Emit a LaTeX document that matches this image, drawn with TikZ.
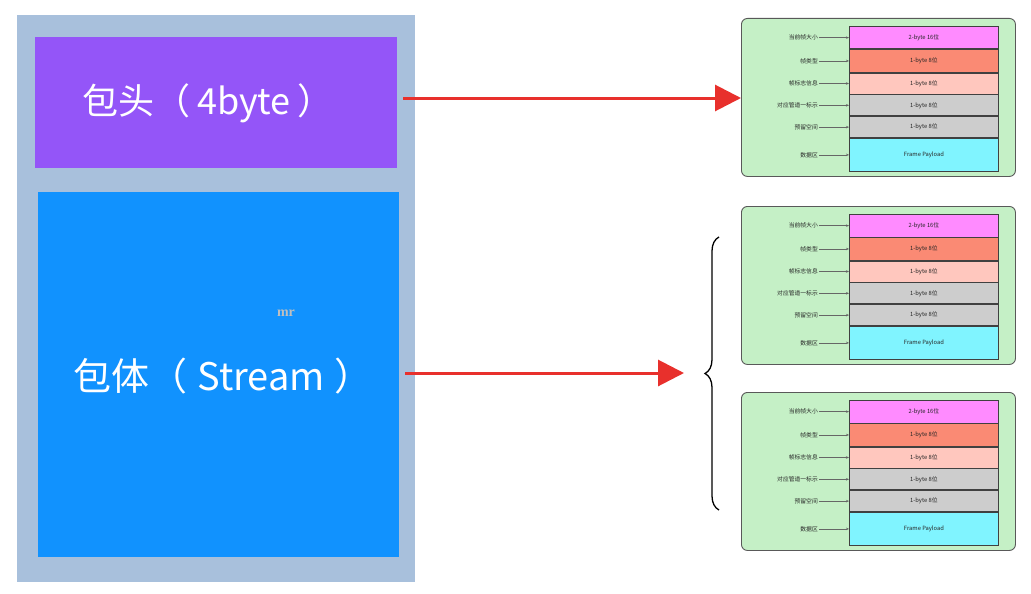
\documentclass[tikz,border=0pt]{standalone}
\usepackage{fontspec}
\setmainfont{Noto Sans CJK SC}
\newfontfamily\markfont{Liberation Serif}
\usetikzlibrary{arrows.meta,decorations.pathreplacing}

\definecolor{outerC}{HTML}{A8C0DC}
\definecolor{headC}{HTML}{9455F8}
\definecolor{bodyC}{HTML}{1192FE}
\definecolor{arrowC}{HTML}{E8302C}
\definecolor{panelC}{HTML}{C5F0C6}
\definecolor{magC}{HTML}{FF8BFF}
\definecolor{salC}{HTML}{FA8A74}
\definecolor{pinkC}{HTML}{FFC7BE}
\definecolor{greyC}{HTML}{CDCDCD}
\definecolor{cyanC}{HTML}{80F4FF}

\tikzset{
  block/.style={draw=none, inner sep=0, outer sep=0},
  bigtext/.style={text=white, font=\fontsize{36}{40}\selectfont},
  redarrow/.style={draw=arrowC, line width=3pt, -{Triangle[length=26pt,width=26pt]}},
  panelbox/.style={draw=black!65, line width=0.9pt, fill=panelC, rounded corners=6pt,
    inner sep=0, minimum width=274pt, minimum height=158pt},
  cell/.style={draw=black!75, line width=0.8pt, inner sep=0, minimum width=149pt,
    font=\fontsize{5.8}{6}\selectfont, text=black!85, anchor=north west},
  lbl/.style={inner sep=1pt, font=\fontsize{5.8}{6}\selectfont, text=black!85, anchor=east},
  lblarrow/.style={draw=black!60, line width=0.5pt, -{Stealth[length=3pt,width=2.5pt]}},
}

% one frame layout panel: #1 = name prefix, #2 = top edge
\newcommand\framepanel[2]{%
  \node[panelbox, anchor=north west] (#1) at (741,#2) {};
  \node[cell, fill=magC,  minimum height=22.5pt] (#1r1) at (849,{#2+8}) {2-byte 16位};
  \node[cell, fill=salC,  minimum height=22.5pt] (#1r2) at (#1r1.south west) {1-byte 8位};
  \node[cell, fill=pinkC, minimum height=21pt]   (#1r3) at (#1r2.south west) {1-byte 8位};
  \node[cell, fill=greyC, minimum height=21pt]   (#1r4) at (#1r3.south west) {1-byte 8位};
  \node[cell, fill=greyC, minimum height=21pt]   (#1r5) at (#1r4.south west) {1-byte 8位};
  \node[cell, fill=cyanC, minimum height=33pt]   (#1r6) at (#1r5.south west) {Frame Payload};
  \node[lbl] (#1l1) at ([xshift=-30pt]#1r1.west) {当前帧大小};
  \node[lbl] (#1l2) at ([xshift=-30pt]#1r2.west) {帧类型};
  \node[lbl] (#1l3) at ([xshift=-30pt]#1r3.west) {帧标志信息};
  \node[lbl] (#1l4) at ([xshift=-30pt]#1r4.west) {对应管道一标示};
  \node[lbl] (#1l5) at ([xshift=-30pt]#1r5.west) {预留空间};
  \node[lbl] (#1l6) at ([xshift=-30pt]#1r6.west) {数据区};
  \foreach \k in {1,...,6} {\draw[lblarrow] (#1l\k.east) -- (#1r\k.west);}
}

\begin{document}
\begin{tikzpicture}[x=1pt, y=-1pt]
  \useasboundingbox[fill=white] (0,0) rectangle (1031,594);

  % packet: header + body
  \node[block, fill=outerC, minimum width=398pt, minimum height=567pt] (packet) at (216,298.5) {};
  \node[block, fill=headC, minimum width=362pt, minimum height=131pt] (head) at (216,102.5) {};
  \node[block, fill=bodyC, minimum width=361pt, minimum height=365pt] (body) at (218.5,374.5) {};
  \node[bigtext] (headtxt) at (208,103) {包头（\hspace{7pt}4byte\hspace{7pt}）};
  \node[bigtext, font=\fontsize{38}{42}\selectfont] (bodytxt) at (223,376) {包体（\hspace{10pt}Stream\hspace{10pt}）};
  \node[text=black!25, font=\markfont\bfseries\fontsize{14}{16}\selectfont] (mark) at (286,313) {mr};

  % frame panels
  \framepanel{fa}{18}
  \framepanel{fb}{206}
  \framepanel{fc}{392}

  % brace grouping the body frames
  \draw[line width=1.3pt, decorate, decoration={brace, amplitude=14pt}]
    (719,510) -- (719,237) coordinate[pos=0.5] (bracemid);
  \coordinate (bracetip) at (684,373);

  % header / body arrows
  \draw[redarrow] ([xshift=6pt]head.east |- 0,98) -- (fa.west |- 0,98);
  \draw[redarrow] ([xshift=6pt]body.east |- 0,373) -- (bracetip);
\end{tikzpicture}
\end{document}
